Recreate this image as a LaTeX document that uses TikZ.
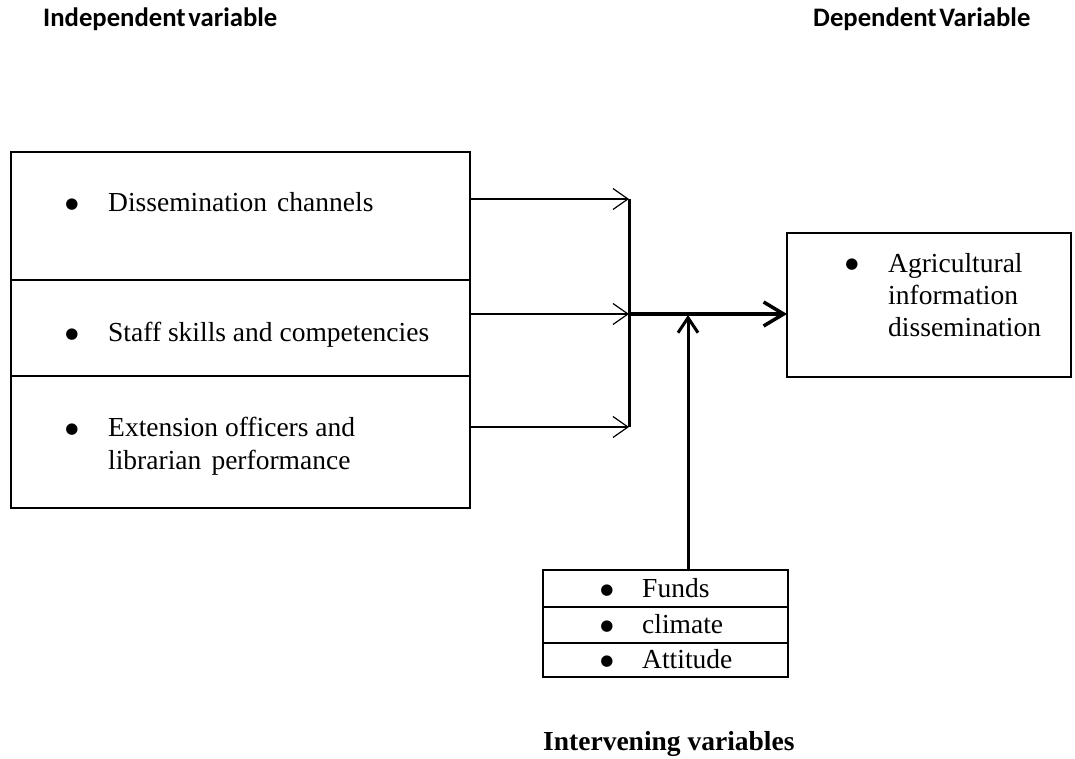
\documentclass[tikz,border=0pt]{standalone}
\usepackage{fontspec}
\setmainfont{Liberation Serif}
\newfontfamily\hdrfont{Carlito}
\newfontfamily\bulfont{DejaVu Sans}
\usetikzlibrary{arrows.meta}
\newcommand{\bigbul}{\raisebox{3pt}{\bulfont\fontsize{15}{17}\selectfont ●}}
\begin{document}
\begin{tikzpicture}[x=1pt,y=1pt,
  box/.style={draw, line width=1.5pt, anchor=north west, inner sep=0pt, outer sep=0pt},
  txt/.style={font=\fontsize{27.5}{33}\selectfont, anchor=base west, inner sep=0pt},
  bul/.style={anchor=base, inner sep=0pt},
  hdr/.style={font=\hdrfont\bfseries\fontsize{26.7}{30}\selectfont, anchor=base west, inner sep=0pt},
  thinarrow/.style={line width=1.2pt, -{Straight Barb[length=15pt,width=21pt,line width=1.2pt]}},
  thickarrow/.style={line width=3.5pt, -{Straight Barb[length=20pt,width=24pt,line width=3.5pt]}},
  uparrow/.style={line width=3pt, -{Straight Barb[length=15pt,width=20pt,line width=3pt]}},
  joinline/.style={line width=3pt}]
\useasboundingbox (0,0) rectangle (1075,-759);

% headers
\node[hdr] (h1) at (43,-27) {Independent\hspace{0.1em}variable};
\node[hdr] (h2) at (813,-27) {Dependent\hspace{0.1em}Variable};

% left boxes
\node[box, minimum width=459pt, minimum height=128pt] (b1) at (11,-152) {};
\node[box, minimum width=459pt, minimum height=96pt] (b2) at (11,-280) {};
\node[box, minimum width=459pt, minimum height=132pt] (b3) at (11,-376) {};

\node[bul] (bu1) at (72,-212) {\bigbul};
\node[txt] (t1) at (108,-212) {Dissemination\hspace{0.12em} channels};
\node[bul] (bu2) at (72,-341) {\bigbul};
\node[txt] (t2) at (108,-341) {Staff skills and competencies};
\node[bul] (bu3) at (72,-436) {\bigbul};
\node[txt] (t3a) at (108,-436) {Extension officers and};
\node[txt] (t3b) at (108,-469) {librarian\hspace{0.12em} performance};

% right box
\node[box, minimum width=284pt, minimum height=144pt] (R) at (787,-233) {};
\node[bul] (bur) at (852,-272) {\bigbul};
\node[txt] (r1) at (888,-272) {Agricultural};
\node[txt] (r2) at (888,-304) {information};
\node[txt] (r3) at (888,-336) {dissemination};

% intervening boxes
\node[box, minimum width=245pt, minimum height=37pt] (i1) at (543,-570) {};
\node[box, minimum width=245pt, minimum height=36pt] (i2) at (543,-607) {};
\node[box, minimum width=245pt, minimum height=34pt] (i3) at (543,-643) {};
\node[bul] (bi1) at (607,-597) {\bigbul};
\node[txt] (f1) at (642,-597) {Funds};
\node[bul] (bi2) at (607,-633) {\bigbul};
\node[txt] (f2) at (642,-633) {climate};
\node[bul] (bi3) at (607,-668) {\bigbul};
\node[txt] (f3) at (642,-668) {Attitude};

\node[txt, font=\bfseries\fontsize{27.5}{33}\selectfont] (iv) at (543,-750) {Intervening variables};

% connectors
\coordinate (j1) at (629,-199);
\coordinate (j2) at (629,-314);
\coordinate (j3) at (629,-427);
\coordinate (m) at (688,-315);

\draw[thinarrow] (b1.east |- j1) -- (j1);
\draw[thinarrow] (b2.east |- j2) -- (j2);
\draw[thinarrow] (b3.east |- j3) -- (j3);
\draw[joinline] (j1) -- (j3);
\draw[thickarrow] (j2) -- (R.west |- j2);
\draw[uparrow] (m |- i1.north) -- (m);
\end{tikzpicture}
\end{document}
